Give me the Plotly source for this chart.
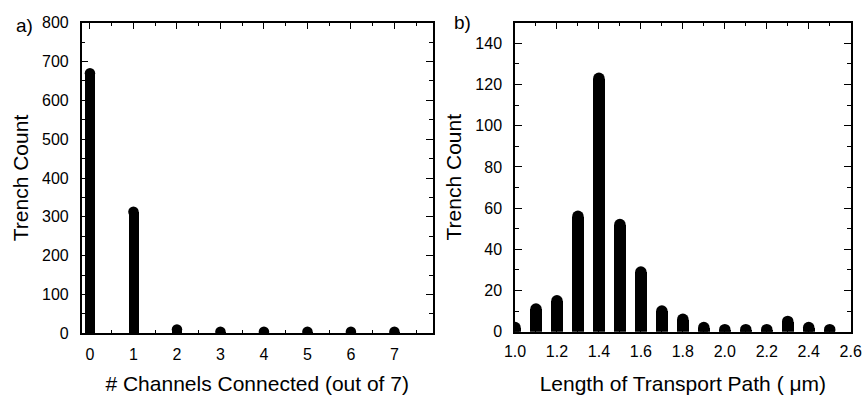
import plotly.graph_objects as go

# Panel a data
channels = [0, 1, 2, 3, 4, 5, 6, 7]
channel_counts = [670, 313, 10, 4, 4, 4, 4, 4]

# Panel b data
path_lengths = [1.0, 1.1, 1.2, 1.3, 1.4, 1.5, 1.6, 1.7, 1.8, 1.9, 2.0, 2.1, 2.2, 2.3, 2.4, 2.5]
path_counts = [2, 11, 15, 56, 123, 52, 29, 10, 6, 2, 1, 1, 1, 5, 2, 1]

W, H = 865, 396
font = "Liberation Sans, Arial, Helvetica, sans-serif"

fig = go.Figure()

# panel a: stems with round tops
fig.add_trace(go.Bar(x=channels, y=channel_counts, width=0.24, marker=dict(color="black", line=dict(width=0)),
                     xaxis="x", yaxis="y", showlegend=False))
fig.add_trace(go.Scatter(x=channels, y=channel_counts, mode="markers",
                         marker=dict(symbol="circle", size=10.5, color="black", line=dict(width=0)),
                         xaxis="x", yaxis="y", showlegend=False, cliponaxis=True))
# panel b
fig.add_trace(go.Bar(x=path_lengths, y=path_counts, width=0.055, marker=dict(color="black", line=dict(width=0)),
                     xaxis="x2", yaxis="y2", showlegend=False))
fig.add_trace(go.Scatter(x=path_lengths, y=path_counts, mode="markers",
                         marker=dict(symbol="circle", size=11.5, color="black", line=dict(width=0)),
                         xaxis="x2", yaxis="y2", showlegend=False, cliponaxis=True))

common = dict(showline=True, linewidth=1.5, linecolor="black", mirror="ticks", ticks="inside",
              ticklen=7, tickwidth=1.3, tickcolor="black", showgrid=False, zeroline=False,
              automargin=False,
              tickfont=dict(family=font, size=16, color="black"))

minor_common = dict(ticklen=4, ticks="inside", tickcolor="black", tickwidth=1.3, showgrid=False)
title_font = dict(family=font, size=21, color="black")

fig.update_layout(
    width=W, height=H,
    margin=dict(l=0, r=0, t=0, b=0),
    plot_bgcolor="white", paper_bgcolor="white",
    bargap=0,
    hovermode=False,
    font=dict(family=font, color="black"),
    xaxis=dict(domain=[81.7 / W, 432.7 / W], range=[-0.19, 7.88], dtick=1, tick0=0,
               anchor="y", ticklabelstandoff=6,
               minor=dict(dtick=0.5, tick0=0, **minor_common),
               title=dict(text="# Channels Connected (out of 7)", font=title_font, standoff=14),
               **common),
    yaxis=dict(domain=[(H - 333.3) / H, (H - 22.7) / H], range=[0, 800], dtick=100, anchor="x",
               ticklabelstandoff=8,
               minor=dict(dtick=50, **minor_common),
               title=dict(text="Trench Count", font=title_font, standoff=8),
               **common),
    xaxis2=dict(domain=[515 / W, 850.7 / W], range=[1.0, 2.6], dtick=0.2, tick0=1.0, tickformat=".1f",
                anchor="y2", ticklabelstandoff=4,
                minor=dict(dtick=0.1, tick0=1.0, **minor_common),
                title=dict(text="Length of Transport Path ( μm)", font=title_font, standoff=18),
                **common),
    yaxis2=dict(domain=[(H - 331.7) / H, (H - 22.7) / H], range=[0, 150], dtick=20, anchor="x2",
                ticklabelstandoff=8,
                minor=dict(dtick=10, **minor_common),
                title=dict(text="Trench Count", font=title_font, standoff=8),
                **common),
    annotations=[
        dict(text="a)", x=14 / W, y=(H - 26) / H, xref="paper", yref="paper", xanchor="left", yanchor="middle",
             showarrow=False, font=dict(family=font, size=19, color="black")),
        dict(text="b)", x=452 / W, y=(H - 22) / H, xref="paper", yref="paper", xanchor="left", yanchor="middle",
             showarrow=False, font=dict(family=font, size=19, color="black")),
    ],
)

fig.write_html("out.html", config={"displayModeBar": False},
               post_script="document.body.style.margin='0';document.body.style.overflow='hidden';")
